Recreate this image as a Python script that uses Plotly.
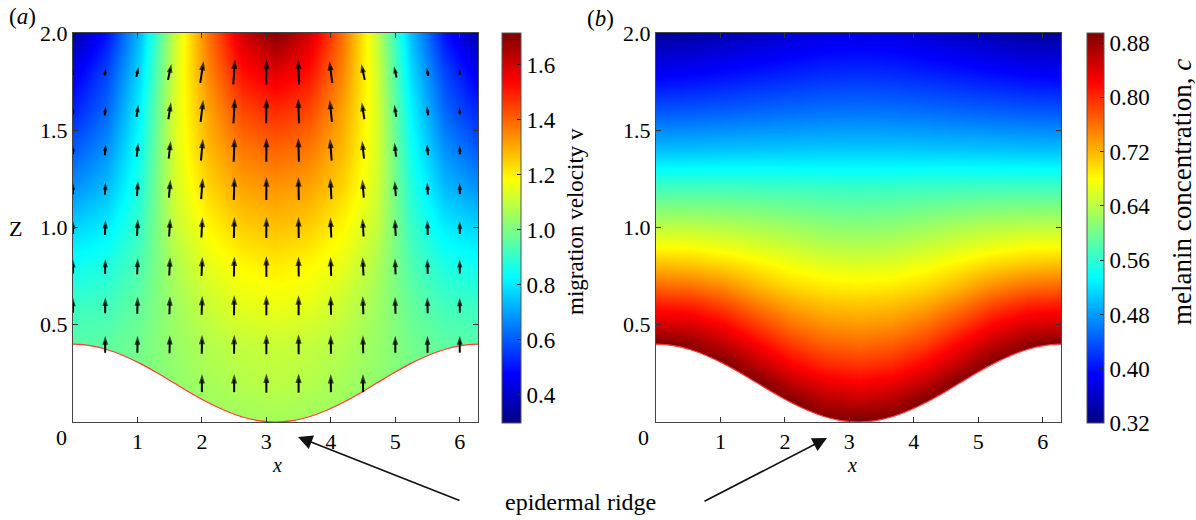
import math
import plotly.graph_objects as go

# ---------------- data ----------------
# grid columns for both fields (x from 0 to 2*pi in steps of pi/6)
grid_x = [0.0, 0.524, 1.047, 1.571, 2.094, 2.618, 3.142, 3.665, 4.189, 4.712, 5.236, 5.760, 6.283]

# epidermal boundary (ridge) heights, read at pi/12 steps
ridge_x = [0.0, 0.262, 0.524, 0.785, 1.047, 1.309, 1.571, 1.833, 2.094, 2.356, 2.618, 2.880, 3.142,
           3.403, 3.665, 3.927, 4.189, 4.451, 4.712, 4.974, 5.236, 5.498, 5.760, 6.021, 6.283]
ridge_z = [0.400, 0.393, 0.373, 0.341, 0.300, 0.252, 0.200, 0.148, 0.100, 0.059, 0.027, 0.007, 0.000,
           0.007, 0.027, 0.059, 0.100, 0.148, 0.200, 0.252, 0.300, 0.341, 0.373, 0.393, 0.400]

# (a) migration velocity magnitude v, rows at these heights
vel_z = [0.0, 0.2, 0.4, 0.6, 0.8, 1.0, 1.2, 1.4, 1.6, 1.8, 2.0]
vel_v = [
    [0.98, 0.98, 1.00, 1.02, 1.04, 1.05, 1.06, 1.05, 1.04, 1.02, 1.00, 0.98, 0.98],
    [0.97, 0.97, 1.00, 1.03, 1.06, 1.08, 1.09, 1.08, 1.06, 1.03, 1.00, 0.97, 0.97],
    [0.95, 0.96, 0.99, 1.04, 1.08, 1.10, 1.11, 1.10, 1.08, 1.04, 0.99, 0.96, 0.95],
    [0.91, 0.92, 0.97, 1.05, 1.11, 1.15, 1.16, 1.15, 1.11, 1.05, 0.97, 0.92, 0.91],
    [0.85, 0.87, 0.94, 1.07, 1.15, 1.19, 1.21, 1.19, 1.15, 1.07, 0.94, 0.87, 0.85],
    [0.77, 0.81, 0.91, 1.10, 1.19, 1.25, 1.27, 1.25, 1.19, 1.10, 0.91, 0.81, 0.77],
    [0.68, 0.74, 0.88, 1.12, 1.24, 1.31, 1.33, 1.31, 1.24, 1.12, 0.88, 0.74, 0.68],
    [0.60, 0.68, 0.85, 1.13, 1.28, 1.37, 1.40, 1.37, 1.28, 1.13, 0.85, 0.68, 0.60],
    [0.52, 0.62, 0.82, 1.13, 1.31, 1.44, 1.48, 1.44, 1.31, 1.13, 0.82, 0.62, 0.52],
    [0.45, 0.57, 0.78, 1.12, 1.35, 1.52, 1.58, 1.52, 1.35, 1.12, 0.78, 0.57, 0.45],
    [0.35, 0.50, 0.74, 1.10, 1.38, 1.60, 1.71, 1.60, 1.38, 1.10, 0.74, 0.50, 0.35],
]

# (a) quiver: arrow grid and components
nan = float("nan")
arrow_x = [0.0, 0.5, 1.0, 1.5, 2.0, 2.5, 3.0, 3.5, 4.0, 4.5, 5.0, 5.5, 6.0]
arrow_z = [0.2, 0.4, 0.6, 0.8, 1.0, 1.2, 1.4, 1.6, 1.8]
arrow_w = [
    [nan, nan, nan, nan, 1.29, 1.29, 1.36, 1.36, 1.29, 1.29, nan, nan, nan],
    [nan, 1.21, 1.21, 1.29, 1.36, 1.36, 1.43, 1.43, 1.36, 1.29, 1.21, 1.21, 1.21],
    [1.07, 1.14, 1.21, 1.29, 1.36, 1.43, 1.43, 1.43, 1.36, 1.29, 1.21, 1.14, 1.07],
    [1.00, 1.07, 1.14, 1.29, 1.36, 1.43, 1.50, 1.43, 1.36, 1.29, 1.14, 1.07, 1.00],
    [0.93, 1.07, 1.21, 1.29, 1.43, 1.50, 1.50, 1.50, 1.43, 1.29, 1.21, 1.07, 0.93],
    [0.79, 0.86, 1.07, 1.29, 1.50, 1.64, 1.64, 1.64, 1.50, 1.29, 1.07, 0.86, 0.79],
    [0.64, 0.79, 1.00, 1.29, 1.57, 1.71, 1.71, 1.71, 1.57, 1.29, 1.00, 0.79, 0.64],
    [0.50, 0.64, 0.86, 1.21, 1.57, 1.79, 1.79, 1.79, 1.57, 1.21, 0.86, 0.64, 0.50],
    [0.43, 0.50, 0.71, 1.14, 1.57, 1.79, 1.79, 1.79, 1.57, 1.14, 0.79, 0.57, 0.43],
]
arrow_u = [
    [0.00, 0.00, 0.00, 0.00, 0.01, 0.00, 0.00, 0.00, -0.01, -0.01, 0.00, 0.00, 0.00],
    [0.00, 0.01, 0.01, 0.02, 0.02, 0.01, 0.00, -0.01, -0.02, -0.02, -0.01, -0.01, 0.00],
    [0.00, 0.01, 0.02, 0.04, 0.04, 0.02, 0.00, -0.01, -0.03, -0.04, -0.03, -0.02, -0.01],
    [0.00, 0.02, 0.04, 0.06, 0.06, 0.03, 0.00, -0.02, -0.05, -0.06, -0.04, -0.03, -0.01],
    [0.00, 0.03, 0.06, 0.08, 0.08, 0.04, 0.01, -0.02, -0.07, -0.08, -0.06, -0.04, -0.01],
    [0.00, 0.04, 0.07, 0.11, 0.11, 0.05, 0.01, -0.03, -0.09, -0.11, -0.08, -0.05, -0.02],
    [0.00, 0.05, 0.10, 0.14, 0.14, 0.07, 0.01, -0.04, -0.12, -0.14, -0.11, -0.07, -0.02],
    [0.00, 0.07, 0.13, 0.19, 0.19, 0.10, 0.02, -0.06, -0.16, -0.19, -0.14, -0.09, -0.03],
    [0.00, 0.09, 0.16, 0.24, 0.24, 0.12, 0.02, -0.07, -0.20, -0.24, -0.18, -0.11, -0.04],
]

# (b) melanin concentration c, rows at these heights
conc_z = [0.0, 0.1, 0.2, 0.3, 0.4, 0.5, 0.6, 0.7, 0.8, 0.9, 1.0, 1.2, 1.4, 1.6, 1.8, 2.0]
conc_c = [
    [0.900, 0.900, 0.900, 0.900, 0.900, 0.900, 0.900, 0.900, 0.900, 0.900, 0.900, 0.900, 0.900],
    [0.900, 0.900, 0.900, 0.900, 0.900, 0.870, 0.862, 0.870, 0.900, 0.900, 0.900, 0.900, 0.900],
    [0.900, 0.900, 0.900, 0.900, 0.860, 0.835, 0.826, 0.835, 0.860, 0.900, 0.900, 0.900, 0.900],
    [0.900, 0.900, 0.900, 0.860, 0.825, 0.800, 0.793, 0.800, 0.825, 0.860, 0.900, 0.900, 0.900],
    [0.900, 0.885, 0.860, 0.825, 0.790, 0.770, 0.763, 0.770, 0.790, 0.825, 0.860, 0.885, 0.900],
    [0.850, 0.845, 0.825, 0.790, 0.760, 0.742, 0.737, 0.742, 0.760, 0.790, 0.825, 0.845, 0.850],
    [0.810, 0.805, 0.785, 0.755, 0.730, 0.716, 0.712, 0.716, 0.730, 0.755, 0.785, 0.805, 0.810],
    [0.765, 0.760, 0.745, 0.720, 0.700, 0.690, 0.687, 0.690, 0.700, 0.720, 0.745, 0.760, 0.765],
    [0.720, 0.715, 0.705, 0.690, 0.675, 0.665, 0.662, 0.665, 0.675, 0.690, 0.705, 0.715, 0.720],
    [0.680, 0.678, 0.670, 0.660, 0.650, 0.640, 0.638, 0.640, 0.650, 0.660, 0.670, 0.678, 0.680],
    [0.645, 0.644, 0.640, 0.634, 0.626, 0.618, 0.615, 0.618, 0.626, 0.634, 0.640, 0.644, 0.645],
    [0.575, 0.575, 0.575, 0.574, 0.572, 0.570, 0.569, 0.570, 0.572, 0.574, 0.575, 0.575, 0.575],
    [0.500, 0.501, 0.503, 0.504, 0.505, 0.506, 0.506, 0.506, 0.505, 0.504, 0.503, 0.501, 0.500],
    [0.440, 0.442, 0.445, 0.449, 0.453, 0.456, 0.457, 0.456, 0.453, 0.449, 0.445, 0.442, 0.440],
    [0.385, 0.388, 0.395, 0.402, 0.408, 0.413, 0.415, 0.413, 0.408, 0.402, 0.395, 0.388, 0.385],
    [0.335, 0.340, 0.348, 0.357, 0.367, 0.375, 0.378, 0.375, 0.367, 0.357, 0.348, 0.340, 0.335],
]

x_ticks = [1, 2, 3, 4, 5, 6]
z_ticks = [0.5, 1.0, 1.5, 2.0]
z_ticktext = ["0.5", "1.0", "1.5", "2.0"]
v_ticks = [0.4, 0.6, 0.8, 1.0, 1.2, 1.4, 1.6]
c_ticks = [0.32, 0.40, 0.48, 0.56, 0.64, 0.72, 0.80, 0.88]

# ---------------- layout geometry (pixels) ----------------
W, H = 1196, 520
FONT = "Liberation Serif"
XMAX = 6.2832
ax_top, ax_bot = 33, 422
a_left, a_right = 73, 478
b_left, b_right = 656, 1061
px_per_x = (a_right - a_left) / XMAX
px_per_z = (ax_bot - ax_top) / 2.0

def fx(p):
    return p / W

def fy(p):
    return 1 - p / H

jet = [[0.0, "rgb(0,0,131)"], [0.125, "rgb(0,0,255)"], [0.375, "rgb(0,255,255)"],
       [0.625, "rgb(255,255,0)"], [0.875, "rgb(255,0,0)"], [1.0, "rgb(128,0,0)"]]

fig = go.Figure()

# (a) velocity heatmap
fig.add_trace(go.Heatmap(
    x=grid_x, y=vel_z, z=vel_v, zsmooth="best", colorscale=jet, zmin=0.298, zmax=1.716,
    xaxis="x", yaxis="y", hoverinfo="skip",
    colorbar=dict(
        x=fx(502), xanchor="left", xpad=0, y=fy(ax_top), yanchor="top", ypad=0,
        len=ax_bot - ax_top + 1, lenmode="pixels", thickness=19,
        outlinewidth=1, outlinecolor="#555",
        tickvals=v_ticks, ticktext=["%.1f" % t for t in v_ticks],
        ticks="inside", ticklen=4, tickcolor="#222",
        tickfont=dict(family=FONT, size=23, color="black"),
    ),
))

# (b) concentration heatmap
fig.add_trace(go.Heatmap(
    x=grid_x, y=conc_z, z=conc_c, zsmooth="best", colorscale=jet, zmin=0.32, zmax=0.895,
    xaxis="x2", yaxis="y2", hoverinfo="skip",
    colorbar=dict(
        x=fx(1087), xanchor="left", xpad=0, y=fy(ax_top), yanchor="top", ypad=0,
        len=ax_bot - ax_top + 1, lenmode="pixels", thickness=17,
        outlinewidth=1, outlinecolor="#555",
        tickvals=c_ticks, ticktext=["%.2f" % t for t in c_ticks],
        ticks="inside", ticklen=4, tickcolor="#222",
        tickfont=dict(family=FONT, size=23, color="black"),
    ),
))

# white region below the ridge with red boundary line
for xa, ya in (("x", "y"), ("x2", "y2")):
    fig.add_trace(go.Scatter(
        x=ridge_x, y=ridge_z, mode="lines", line=dict(color="#ff3b3b", width=1.2, shape="spline"),
        fill="tozeroy", fillcolor="white", xaxis=xa, yaxis=ya, hoverinfo="skip", showlegend=False,
    ))

# quiver arrows for (a)
S = 14.0  # pixels per velocity unit
shaft_x, shaft_y = [], []
head_x, head_y, head_ang, head_size = [], [], [], []
for i, zc in enumerate(arrow_z):
    for j, xc in enumerate(arrow_x):
        w = arrow_w[i][j]
        u = arrow_u[i][j]
        if math.isnan(w):
            continue
        lx, lz = u * S, w * S
        L = math.hypot(lx, lz)
        x0 = xc - lx / 2 / px_per_x
        z0 = zc - lz / 2 / px_per_z
        x1 = xc + lx / 2 / px_per_x
        z1 = zc + lz / 2 / px_per_z
        size = min(10.0, 3.5 + 0.35 * L)
        hl = 0.95 * size
        if L > hl:
            f = (L - 0.6 * hl) / L
            shaft_x += [x0, x0 + (x1 - x0) * f, None]
            shaft_y += [z0, z0 + (z1 - z0) * f, None]
        head_x.append(x1)
        head_y.append(z1)
        head_ang.append(math.degrees(math.atan2(lx, lz)))
        head_size.append(size)

fig.add_trace(go.Scatter(
    x=shaft_x, y=shaft_y, mode="lines", line=dict(color="black", width=2.0),
    xaxis="x", yaxis="y", hoverinfo="skip", showlegend=False,
))
fig.add_trace(go.Scatter(
    x=head_x, y=head_y, mode="markers",
    marker=dict(symbol="arrow", size=head_size, angle=head_ang, color="black", line=dict(width=0)),
    xaxis="x", yaxis="y", hoverinfo="skip", showlegend=False,
))

axis_common = dict(
    showgrid=False, zeroline=False, showline=True, linecolor="#444", linewidth=1,
    mirror="ticks", ticks="inside", ticklen=5, tickcolor="#333",
    tickfont=dict(family=FONT, size=22, color="black"),
)
fig.update_layout(
    width=W, height=H, margin=dict(l=0, r=0, t=0, b=0, autoexpand=False),
    paper_bgcolor="white", plot_bgcolor="white", showlegend=False,
    font=dict(family=FONT, color="black"),
    xaxis=dict(domain=[fx(a_left), fx(a_right)], range=[0, XMAX], tickvals=x_ticks, **axis_common),
    yaxis=dict(domain=[fy(ax_bot), fy(ax_top)], range=[0, 2], tickvals=z_ticks, ticktext=z_ticktext,
               anchor="x", **axis_common),
    xaxis2=dict(domain=[fx(b_left), fx(b_right)], range=[0, XMAX], tickvals=x_ticks, anchor="y2",
                **axis_common),
    yaxis2=dict(domain=[fy(ax_bot), fy(ax_top)], range=[0, 2], tickvals=z_ticks, ticktext=z_ticktext,
                anchor="x2", **axis_common),
)

def text_ann(txt, px, py, size=22, angle=0):
    return dict(text=txt, x=fx(px), y=fy(py), xref="paper", yref="paper", showarrow=False,
                xanchor="center", yanchor="middle", textangle=angle,
                font=dict(family=FONT, size=size, color="black"))

anns = [
    text_ann("(<i>a</i>)", 22, 17, 23),
    text_ann("(<i>b</i>)", 600, 19, 23),
    text_ann("Z", 15, 228, 22),
    text_ann("0", 61, 437, 22),
    text_ann("0", 643, 437, 22),
    text_ann("<i>x</i>", 277, 465, 20),
    text_ann("<i>x</i>", 852, 465, 20),
    text_ann("epidermal ridge", 580, 502, 24),
    text_ann("migration velocity v", 575, 222, 23, -90),
    text_ann("melanin concentration, <i>c</i>", 1182, 192, 27, -90),
]
# pointer arrows for "epidermal ridge"
for hx, hy, tx, ty in ((298, 437, 461, 501), (827, 438, 703, 502)):
    anns.append(dict(text="", x=fx(hx), y=fy(hy), xref="paper", yref="paper", showarrow=True,
                     ax=tx - hx, ay=ty - hy, axref="pixel", ayref="pixel",
                     arrowhead=2, arrowsize=1.8, arrowwidth=1.6, arrowcolor="#111", standoff=0))
fig.update_layout(annotations=anns)

fig.write_html("out.html", config={"displayModeBar": False},
               post_script="document.body.style.margin='0px';")
